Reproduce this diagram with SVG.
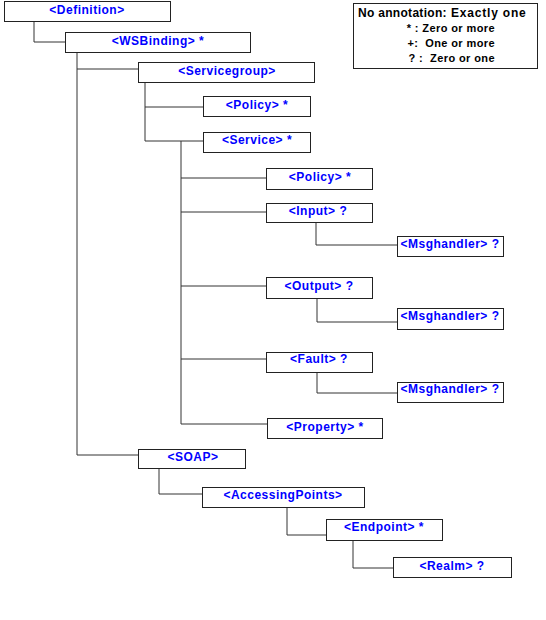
<svg xmlns="http://www.w3.org/2000/svg" width="546" height="620" viewBox="0 0 546 620">
<style>
.box{fill:#fff;stroke:#222;stroke-width:1}
.lbl{font-family:"Liberation Sans",Arial,sans-serif;font-size:12px;font-weight:bold;fill:#0000ff;text-anchor:middle;letter-spacing:0.5px}
.leg{font-family:"Liberation Sans",Arial,sans-serif;font-size:11px;font-weight:bold;fill:#000;letter-spacing:0.4px;white-space:pre}
.con{fill:none;stroke:#333;stroke-width:1}
</style>
<rect width="546" height="620" fill="#fff"/>
<g id="connectors">
<polyline class="con" points="34,21 34,42 65,42"/>
<polyline class="con" points="77,52 77,455 138,455"/>
<polyline class="con" points="77,69 138,69"/>
<polyline class="con" points="145,82 145,141 203,141"/>
<polyline class="con" points="145,107 203,107"/>
<polyline class="con" points="181,141 181,424 267,424"/>
<polyline class="con" points="181,178 266,178"/>
<polyline class="con" points="181,212 266,212"/>
<polyline class="con" points="181,286 266,286"/>
<polyline class="con" points="181,359 266,359"/>
<polyline class="con" points="316,222 316,245 397,245"/>
<polyline class="con" points="317,298 317,322 397,322"/>
<polyline class="con" points="317,372 317,393 397,393"/>
<polyline class="con" points="159,468 159,494 202,494"/>
<polyline class="con" points="287,507 287,535 326,535"/>
<polyline class="con" points="353,540 353,568 393,568"/>
</g>
<g id="definition"><rect class="box" x="4.5" y="1.5" width="166" height="20"/><text class="lbl" x="87" y="14">&lt;Definition&gt;</text></g>
<g id="wsbinding"><rect class="box" x="65.5" y="32.5" width="185" height="20"/><text class="lbl" x="158" y="45">&lt;WSBinding&gt; *</text></g>
<g id="servicegroup"><rect class="box" x="138.5" y="62.5" width="176" height="20"/><text class="lbl" x="227" y="75">&lt;Servicegroup&gt;</text></g>
<g id="policy1"><rect class="box" x="203.5" y="96.5" width="107" height="20"/><text class="lbl" x="257" y="109">&lt;Policy&gt; *</text></g>
<g id="service"><rect class="box" x="203.5" y="132.5" width="107" height="20"/><text class="lbl" x="257" y="144">&lt;Service&gt; *</text></g>
<g id="policy2"><rect class="box" x="266.5" y="168.5" width="106" height="21"/><text class="lbl" x="320" y="181">&lt;Policy&gt; *</text></g>
<g id="input"><rect class="box" x="266.5" y="203.5" width="106" height="19"/><text class="lbl" x="318" y="215">&lt;Input&gt; ?</text></g>
<g id="msghandler1"><rect class="box" x="397.5" y="236.5" width="106" height="20"/><text class="lbl" x="450" y="248">&lt;Msghandler&gt; ?</text></g>
<g id="output"><rect class="box" x="266.5" y="277.5" width="106" height="21"/><text class="lbl" x="319" y="290">&lt;Output&gt; ?</text></g>
<g id="msghandler2"><rect class="box" x="397.5" y="308.5" width="106" height="21"/><text class="lbl" x="450" y="320">&lt;Msghandler&gt; ?</text></g>
<g id="fault"><rect class="box" x="266.5" y="352.5" width="106" height="20"/><text class="lbl" x="319" y="363">&lt;Fault&gt; ?</text></g>
<g id="msghandler3"><rect class="box" x="397.5" y="382.5" width="106" height="20"/><text class="lbl" x="450" y="393">&lt;Msghandler&gt; ?</text></g>
<g id="property"><rect class="box" x="267.5" y="418.5" width="115" height="20"/><text class="lbl" x="325" y="431">&lt;Property&gt; *</text></g>
<g id="soap"><rect class="box" x="138.5" y="449.5" width="107" height="19"/><text class="lbl" x="193" y="461">&lt;SOAP&gt;</text></g>
<g id="accessingpoints"><rect class="box" x="202.5" y="487.5" width="162" height="20"/><text class="lbl" x="283" y="499">&lt;AccessingPoints&gt;</text></g>
<g id="endpoint"><rect class="box" x="326.5" y="519.5" width="116" height="21"/><text class="lbl" x="384" y="531">&lt;Endpoint&gt; *</text></g>
<g id="realm"><rect class="box" x="393.5" y="557.5" width="118" height="20"/><text class="lbl" x="452" y="570">&lt;Realm&gt; ?</text></g>
<g id="legend">
<rect x="353.5" y="3.5" width="184" height="65" fill="#fff" stroke="#222" stroke-width="1"/>
<text class="leg" x="358" y="17"><tspan style="font-size:12px;letter-spacing:0.3px">No annotation:</tspan><tspan style="font-size:12px;letter-spacing:0.8px"> Exactly one</tspan></text>
<text class="leg" x="495" y="32" text-anchor="end">* : Zero or more</text>
<text class="leg" x="495" y="47" text-anchor="end">+:  One or more</text>
<text class="leg" x="495" y="62" text-anchor="end">? :  Zero or one</text>
</g>
</svg>
